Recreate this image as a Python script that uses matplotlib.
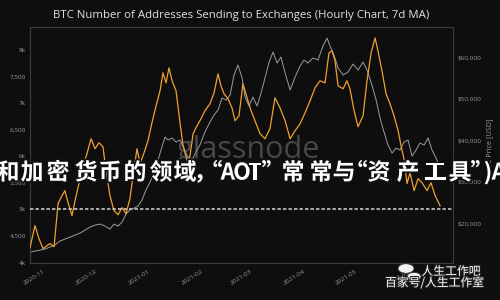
import datetime as dt

import matplotlib
matplotlib.use("Agg")
import matplotlib.patheffects as pe
import matplotlib.pyplot as plt
from matplotlib.patches import Circle

plt.rcParams["font.family"] = ["Open Sans", "Noto Sans CJK SC", "DejaVu Sans"]

BASE = dt.datetime(2020, 11, 1)

# addresses sending to exchanges (7d MA), days since 2020-11-01
ADDR_DAYS = [-9.3, -6.4, -4.1, -1.7, 2.3, 4.7, 7.0, 9.3, 11.0, 12.8, 15.1, 16.9, 18.6, 20.9,
             23.8, 26.2, 28.5, 30.8, 33.1, 34.9, 37.2, 39.5, 41.9, 44.2, 46.5, 48.8, 50.6,
             52.9, 54.7, 57.0, 59.3, 61.6, 64.0, 66.3, 68.0, 69.8, 71.5, 73.3, 75.6, 77.9,
             79.7, 82.0, 83.7, 85.5, 87.8, 89.5, 92.4, 95.3, 97.7, 100.0, 101.7, 103.5,
             105.8, 108.1, 109.9, 112.2, 114.5, 116.9, 119.2, 121.5, 124.4, 127.3, 130.2,
             133.1, 136.0, 139.0, 141.9, 144.8, 147.7, 150.6, 153.5, 156.4, 159.3, 162.2,
             164.5, 166.3, 168.0, 169.8, 172.7, 175.0, 176.7, 179.1, 181.4, 184.3, 186.6,
             189.0, 191.3, 193.0, 195.3, 197.7, 200.0, 202.3, 204.7, 206.4, 208.1, 209.9,
             211.6, 214.0, 216.3, 218.6, 221.5, 223.8, 226.2, 229.1]
ADDR = [4282, 4695, 4451, 4263, 4357, 4300, 5108, 5258, 5352, 5127, 4883, 5164, 5408, 5728,
        6047, 6329, 6141, 6254, 6178, 5728, 5258, 4977, 4901, 5033, 4920, 5202, 5634,
        6141, 5859, 6066, 6291, 6629, 6948, 7230, 7568, 7380, 7662, 7418, 7230, 6629,
        6197, 5916, 6010, 6423, 6573, 6667, 6855, 6986, 7193, 7549, 7324, 7174,
        7080, 6911, 6667, 6761, 7362, 7099, 6855, 6667, 6423, 6329, 6517,
        7099, 6911, 6667, 6329, 6479, 6611, 6817, 7042, 7287, 7418, 7380,
        7944, 7981, 7794, 7324, 7268, 7418, 7268, 6855, 6554, 6761, 7418,
        7944, 8225, 7981, 7606, 7174, 6986, 6761, 6479, 6197, 5953, 5484,
        5690, 5352, 5578, 5502, 5352, 5502, 5258, 5070]

# BTC price (USD)
PRICE_DAYS = [-9.3, -6.4, -3.5, -0.6, 2.3, 5.2, 8.1, 11.0, 14.0, 16.9, 19.8, 22.7, 25.6, 28.5,
              31.4, 34.3, 37.2, 39.5, 41.9, 44.2, 46.5, 48.8, 51.2, 53.5, 55.8, 58.1, 60.5,
              62.8, 65.1, 67.4, 69.2, 70.9, 73.3, 75.6, 77.9, 80.2, 82.6, 84.9, 87.2, 89.5,
              92.4, 95.3, 97.7, 100.0, 102.3, 104.7, 107.0, 109.3, 111.6, 114.0, 115.7,
              118.0, 120.3, 122.7, 125.0, 127.3, 129.7, 132.0, 134.3, 136.6, 139.0, 141.9,
              144.8, 147.7, 150.0, 152.3, 155.2, 158.1, 161.0, 163.4, 165.1, 167.4, 169.8,
              172.7, 175.6, 178.5, 181.4, 184.3, 186.6, 189.5, 191.9, 194.2, 196.5, 198.8,
              201.2, 203.5, 205.8, 208.1, 210.5, 212.8, 215.1, 217.4, 219.8, 222.1, 224.4,
              226.7, 229.1]
PRICE = [13012, 13253, 13494, 13735, 14217, 14699, 15663, 16145, 16627, 17108, 17590, 18313,
         19036, 19518, 19759, 19277, 18554, 19759, 19277, 20241, 22169, 23133, 23614, 24096,
         25542, 27952, 29880, 32289, 35181, 38313, 40723, 40000, 40482, 39518, 40000, 38072,
         35663, 35181, 37108, 38795, 41928, 44337, 46024, 47229, 50120, 49639, 50843, 55663,
         58072, 54940, 50361, 48193, 50361, 48193, 51325, 54940, 58795, 61205, 58554, 59999,
         56145, 52048, 55181, 57831, 59277, 58554, 59759, 59277, 62651, 64578, 62651, 60482,
         57349, 55663, 56386, 58313, 56867, 58795, 56867, 53253, 49639, 45301, 41928, 38795,
         36867, 38072, 37590, 39518, 40000, 36145, 37590, 39277, 38795, 40482, 37590, 35663,
         33494]

LEFT_TICKS = [4000, 4500, 5000, 5500, 6000, 6500, 7000, 7500, 8000]
LEFT_LABELS = ["4k", "4,500", "5k", "5,500", "6k", "6,500", "7k", "7,500", "8k"]
RIGHT_TICKS = [20000, 30000, 40000, 50000, 60000]
RIGHT_LABELS = ["$20,000", "$30,000", "$40,000", "$50,000", "$60,000"]
MONTHS = ["2020-11", "2020-12", "2021-01", "2021-02", "2021-03", "2021-04", "2021-05", "2021-06"]

TITLE = "BTC Number of Addresses Sending to Exchanges (Hourly Chart, 7d MA)"
OVERLAY = "和加密货币的领域，“AOT”常常与“资产工具”)A"
# centre of each overlay glyph box, in pixels from the left edge
OVERLAY_X = [8, 32, 58, 86, 110, 135, 161, 185, 205, 211, 228, 242, 255, 273,
             293, 321, 344, 356, 379, 408, 435, 460, 482, 488, 499]

BG = "#0e0e0e"
ORANGE = "#f0a030"
GREY = "#9c9c9c"
TICKC = "#9a9a9a"


def days(ds):
    return [BASE + dt.timedelta(days=d) for d in ds]


fig = plt.figure(figsize=(5, 3), dpi=100, facecolor=BG)
ax = fig.add_axes([0.06, 0.123, 0.846, 0.787], facecolor=BG)
ax2 = ax.twinx()

ax2.plot(days(PRICE_DAYS), PRICE, c=GREY, lw=0.7, zorder=2)
ax.plot(days(ADDR_DAYS), ADDR, c=ORANGE, lw=0.9, zorder=3)
ax.set_zorder(ax2.get_zorder() + 1)
ax.patch.set_visible(False)
ax2.patch.set_facecolor(BG)
ax.axhline(5000, ls=(0, (2.2, 1.4)), c="#d8d8d8", lw=1.1, zorder=4)

ax.set_xlim(BASE + dt.timedelta(days=-9.3), BASE + dt.timedelta(days=236.6))
ax.set_ylim(3990, 8430)
ax2.set_ylim(10360, 67230)

ax.set_yticks(LEFT_TICKS, LEFT_LABELS)
ax2.set_yticks(RIGHT_TICKS, RIGHT_LABELS)
month_ticks = [dt.datetime.strptime(m, "%Y-%m") for m in MONTHS]
ax.set_xticks(month_ticks, MONTHS)
for lab in ax.get_xticklabels():
    lab.set_rotation(32)
    lab.set_ha("right")

for a in (ax, ax2):
    a.tick_params(length=0, labelsize=4.6, colors=TICKC, pad=3)
    for s in a.spines.values():
        s.set_color("#3a3a3a")
        s.set_linewidth(0.8)
ax.tick_params(axis="x", pad=4)
ax2.set_ylabel("BTC Price [USD]", color=TICKC, fontsize=5.2, labelpad=4)

fig.text(0.483, 0.948, TITLE, ha="center", va="center", color="#e2e2e2", fontsize=8.2)

# glassnode watermark
fig.text(0.497, 0.5, "glassnode", ha="center", va="center", color="#808080", alpha=0.5,
         fontsize=22, zorder=5)

# overlay text from the page, one glyph at a time (wide letter spacing)
stroke = [pe.withStroke(linewidth=2.5, foreground="#111111")]
for ch, px in zip(OVERLAY, OVERLAY_X):
    fig.text(px / 500, 0.423, ch, ha="center", va="center", color="white", fontsize=16.5,
             fontweight="bold", family=["Noto Sans CJK SC", "DejaVu Sans"], zorder=10,
             path_effects=stroke)

# bottom-right badge
for cx, cy, r in [(0.812, 0.105, 0.016), (0.828, 0.078, 0.014)]:
    fig.patches.append(Circle((cx, cy), r, transform=fig.transFigure, facecolor="#f2f2f2",
                              edgecolor="#333333", lw=0.6, zorder=11))
fig.text(0.843, 0.095, "人生工作吧", ha="left", va="center", color="white", fontsize=8.5,
         family=["Noto Sans CJK SC"], zorder=12,
         path_effects=[pe.withStroke(linewidth=1.5, foreground="#222222")])
fig.text(0.77, 0.057, "百家号/人生工作室", ha="left", va="center", color="white", fontsize=8.5,
         family=["Noto Sans CJK SC"], zorder=12,
         path_effects=[pe.withStroke(linewidth=1.5, foreground="#222222")])

fig.savefig("out.png", dpi=100, facecolor=BG)
